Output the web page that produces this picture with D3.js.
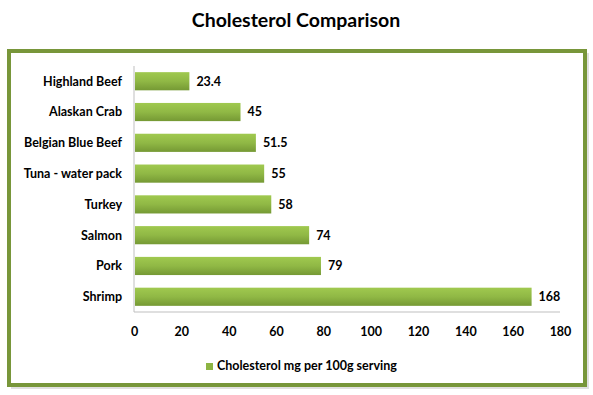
<!DOCTYPE html>
<html>
<head>
<meta charset="utf-8">
<script src="https://cdn.jsdelivr.net/npm/d3@7"></script>
<style>
  body { margin: 0; background: #fff; }
  text { font-family: Lato, "Open Sans", sans-serif; font-weight: bold; fill: #000; }
</style>
</head>
<body>
<div id="chart"></div>
<script>
const categories = ["Highland Beef", "Alaskan Crab", "Belgian Blue Beef", "Tuna - water pack", "Turkey", "Salmon", "Pork", "Shrimp"];
const values = [23.4, 45, 51.5, 55, 58, 74, 79, 168];
const xTicks = [0, 20, 40, 60, 80, 100, 120, 140, 160, 180];
const seriesName = "Cholesterol mg per 100g serving";
const title = "Cholesterol Comparison";

const width = 593, height = 395;
const margin = {top: 66, right: 33, bottom: 83, left: 134};

const svg = d3.select("#chart").append("svg")
  .attr("width", width)
  .attr("height", height);

const defs = svg.append("defs");
const grad = defs.append("linearGradient")
  .attr("id", "barGrad")
  .attr("x1", 0).attr("y1", 0).attr("x2", 0).attr("y2", 1);
grad.append("stop").attr("offset", "0%").attr("stop-color", "#a0c94f");
grad.append("stop").attr("offset", "50%").attr("stop-color", "#90b845");
grad.append("stop").attr("offset", "100%").attr("stop-color", "#759934");

// outer frame
svg.append("rect")
  .attr("x", 11).attr("y", 53)
  .attr("width", 578).attr("height", 336)
  .attr("fill", "#e0e0e0");
svg.append("rect")
  .attr("x", 9).attr("y", 51)
  .attr("width", 576).attr("height", 334)
  .attr("fill", "#fff")
  .attr("stroke", "#78963a")
  .attr("stroke-width", 4);

svg.append("text")
  .attr("x", 296).attr("y", 27)
  .attr("text-anchor", "middle")
  .style("font-size", "19.5px")
  .text(title);

const x = d3.scaleLinear()
  .domain([0, 180])
  .range([margin.left, 560]);

const y = d3.scaleBand()
  .domain(categories)
  .range([margin.top, 312])
  .paddingInner(0.41)
  .paddingOuter(0.2);

// axis lines
const g = svg.append("g");
g.append("line")
  .attr("x1", x(0)).attr("x2", x(0))
  .attr("y1", margin.top).attr("y2", 312)
  .attr("stroke", "#bfbfbf");
g.append("line")
  .attr("x1", x(0)).attr("x2", x(180))
  .attr("y1", 312).attr("y2", 312)
  .attr("stroke", "#bfbfbf");

const xAxis = d3.axisBottom(x).tickValues(xTicks).tickSize(0).tickPadding(0);
const ax = svg.append("g")
  .attr("transform", "translate(0,327)")
  .call(xAxis);
ax.select(".domain").remove();
ax.selectAll("text")
  .style("font-size", "12.5px")
  .style("font-family", "Lato, 'Open Sans', sans-serif")
  .attr("fill", "#000");

svg.append("g").selectAll("text")
  .data(categories)
  .enter().append("text")
    .attr("x", 122)
    .attr("y", d => y(d) + y.bandwidth() / 2)
    .attr("dy", "0.35em")
    .attr("text-anchor", "end")
    .style("font-size", "12.5px")
    .text(d => d);

const data = categories.map((c, i) => ({name: c, value: values[i]}));

svg.append("g").selectAll("rect")
  .data(data)
  .enter().append("rect")
    .attr("x", x(0) + 1)
    .attr("y", d => y(d.name))
    .attr("width", d => x(d.value) - x(0) - 1)
    .attr("height", y.bandwidth())
    .attr("fill", "url(#barGrad)");

svg.append("g").selectAll("text")
  .data(data)
  .enter().append("text")
    .attr("x", d => x(d.value) + 7)
    .attr("y", d => y(d.name) + y.bandwidth() / 2)
    .attr("dy", "0.35em")
    .style("font-size", "12.5px")
    .text(d => d.value);

// legend
const legend = svg.append("g").attr("transform", "translate(206,366)");
legend.append("rect")
  .attr("x", 0).attr("y", -3)
  .attr("width", 7).attr("height", 7)
  .attr("fill", "#8db443");
legend.append("text")
  .attr("x", 11).attr("y", 0)
  .attr("dy", "0.35em")
  .style("font-size", "12.5px")
  .text(seriesName);
</script>
</body>
</html>
